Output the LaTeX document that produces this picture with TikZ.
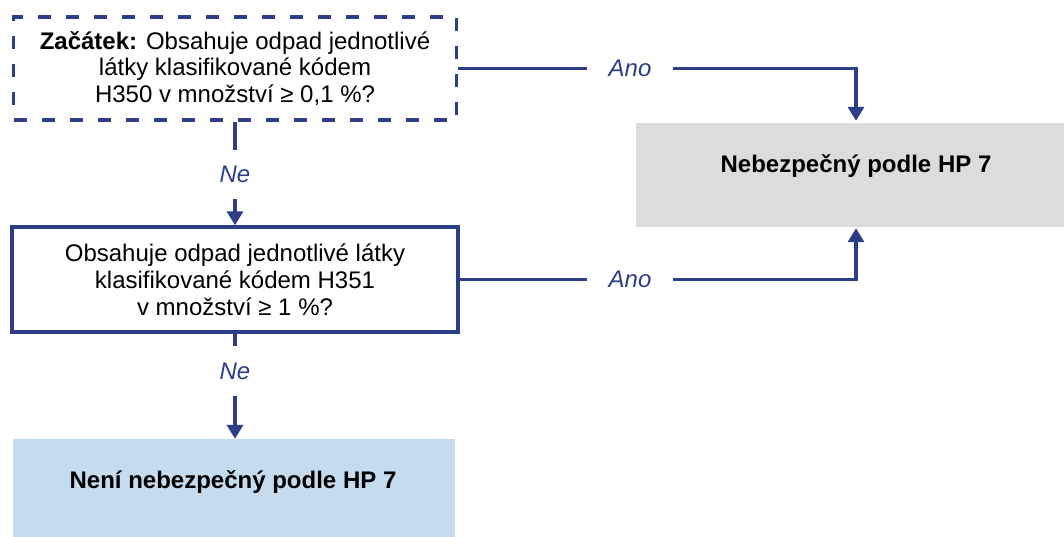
\documentclass[tikz,border=0pt]{standalone}
\usepackage{fontspec}
\setmainfont{Liberation Sans}
\usetikzlibrary{arrows.meta}
\definecolor{flowblue}{RGB}{44,62,135}
\definecolor{hazgray}{RGB}{220,220,220}
\definecolor{safeblue}{RGB}{197,219,238}
\begin{document}
\begin{tikzpicture}[x=1pt,y=-1pt,
  txt/.style={font=\fontsize{24}{26.8}\selectfont, align=center, text=black},
  question/.style={txt, draw=flowblue, line width=3.4pt, inner sep=0pt},
  result/.style={draw=none, inner sep=0pt},
  restext/.style={txt, font=\fontsize{24}{26.8}\selectfont\bfseries, anchor=base, inner sep=0pt},
  answer/.style={font=\fontsize{24}{26.8}\selectfont\itshape, text=flowblue, inner xsep=21.5pt, inner ysep=16pt},
  link/.style={draw=flowblue, line width=3.4pt},
  arrowlink/.style={link, -{Triangle[width=16pt,length=14pt]}}
]
\useasboundingbox (0,0) rectangle (1064,537);
\clip (0,0) rectangle (1064,537);

% decision boxes
\node[question, dash pattern=on 13pt off 15pt, minimum width=443pt, minimum height=103pt]
  (start) at (235,68.5)
  {\textbf{Začátek:} Obsahuje odpad jednotlivé\\látky klasifikované kódem\\H350 v množství ≥ 0,1 \%?};
\node[question, minimum width=446pt, minimum height=105pt]
  (second) at (235,279.5)
  {Obsahuje odpad jednotlivé látky\\klasifikované kódem H351\\v množství ≥ 1 \%?};

% outcome boxes
\node[result, fill=hazgray, minimum width=440pt, minimum height=104pt] (haz) at (856,175) {};
\node[restext] (hazt) at (856,173) {Nebezpečný podle HP 7};
\node[result, fill=safeblue, minimum width=442pt, minimum height=102pt] (safe) at (234,490) {};
\node[restext] (safet) at (233,488) {Není nebezpečný podle HP 7};

% answer labels
\node[answer] (ne1) at (235,174.5) {Ne};
\node[answer] (ne2) at (235,371) {Ne};
\node[answer] (ano1) at (630,68.5) {Ano};
\node[answer] (ano2) at (630,279.5) {Ano};

% connectors
\draw[link] (start.south) -- (ne1.north);
\draw[arrowlink] (ne1.south) -- (second.north);
\draw[link] (second.south) -- (ne2.north);
\draw[arrowlink] (ne2.south) -- (safe.north -| ne2.south);
\draw[link] (start.east) -- (ano1.west);
\draw[arrowlink, shorten >=2pt] (ano1.east) -| (haz.north);
\draw[link] (second.east) -- (ano2.west);
\draw[arrowlink, shorten >=1pt] (ano2.east) -| (haz.south);
\end{tikzpicture}
\end{document}
